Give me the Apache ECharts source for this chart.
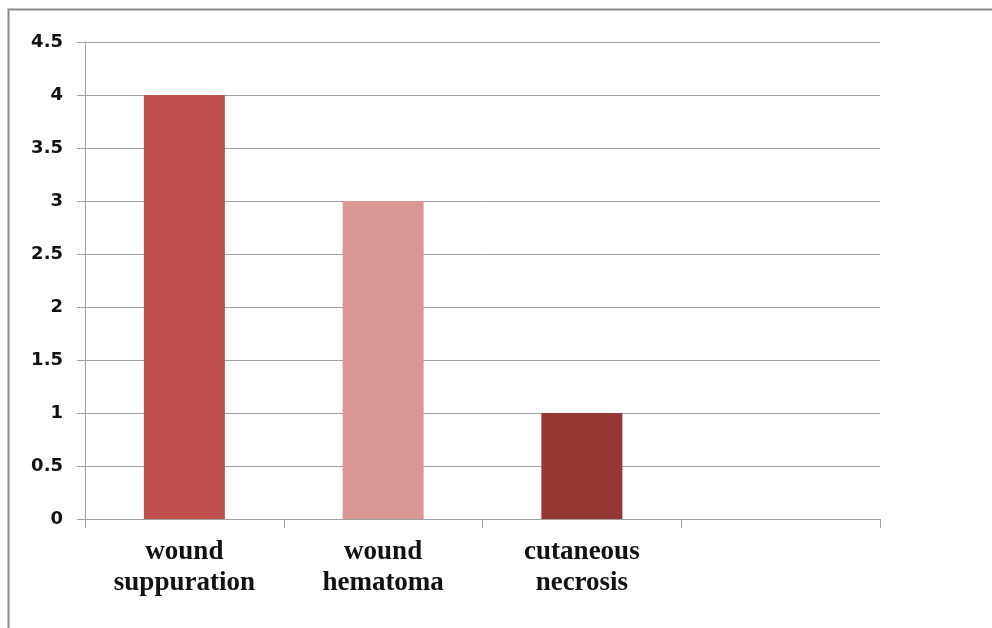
<!DOCTYPE html>
<html>
<head>
<meta charset="utf-8">
<script src="https://cdn.jsdelivr.net/npm/echarts@6/dist/echarts.min.js"></script>
<style>
  html, body { margin: 0; padding: 0; background: #fff; }
  #chart { width: 992px; height: 628px; }
</style>
</head>
<body>
<div id="chart"></div>
<script>
var categories = ['wound\nsuppuration', 'wound\nhematoma', 'cutaneous\nnecrosis', '']
var counts = [4, 3, 1, null]
var barColors = ['#C0504D', '#D99694', '#953735', '#C0504D']

var chart = echarts.init(document.getElementById('chart'))
var option = {
  backgroundColor: '#ffffff',
  animation: false,
  graphic: [{
    type: 'rect',
    shape: { x: 8.5, y: 9.5, width: 1100, height: 800 },
    style: { fill: 'none', stroke: '#8a8a8a', lineWidth: 2 },
    silent: true
  }],
  grid: { left: 85, top: 42, right: 112, bottom: 109 },
  xAxis: {
    type: 'category',
    data: categories,
    axisLine: { lineStyle: { color: '#a0a0a0', width: 1 } },
    axisTick: { show: true, length: 9, lineStyle: { color: '#a0a0a0' } },
    axisLabel: {
      interval: 0,
      margin: 18,
      color: '#111111',
      fontFamily: 'Liberation Serif',
      fontWeight: 'bold',
      fontSize: 27,
      lineHeight: 31
    }
  },
  yAxis: {
    type: 'value',
    min: 0,
    max: 4.5,
    interval: 0.5,
    axisLine: { show: true, lineStyle: { color: '#a0a0a0' } },
    axisTick: { show: true, length: 8, lineStyle: { color: '#a0a0a0' } },
    splitLine: { lineStyle: { color: '#a0a0a0', width: 1 } },
    axisLabel: {
      margin: 22,
      color: '#111111',
      fontFamily: 'DejaVu Sans',
      fontWeight: 'bold',
      fontSize: 18
    }
  },
  series: [{
    type: 'bar',
    barWidth: 81,
    data: counts.map(function (v, i) {
      return { value: v, itemStyle: { color: barColors[i] } }
    })
  }]
}
chart.setOption(option)
</script>
</body>
</html>
